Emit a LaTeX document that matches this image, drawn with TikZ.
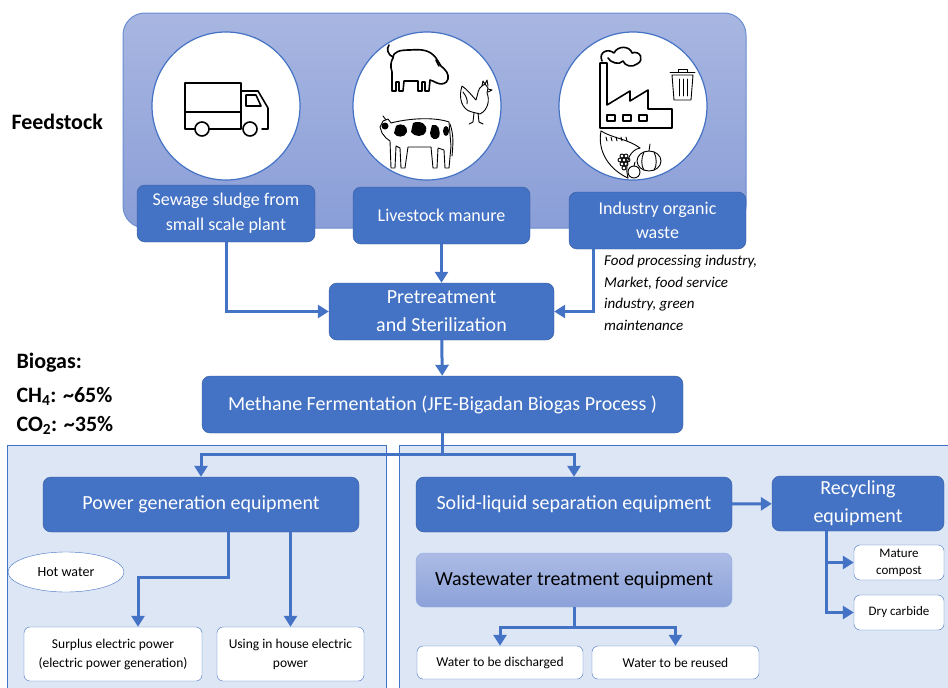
\documentclass[tikz,border=0pt]{standalone}
\usepackage{fontspec}
\setmainfont{Carlito}
\usepackage{tikz}
\usepackage{xcolor}
\usetikzlibrary{arrows.meta,shapes.geometric}
\definecolor{officeblue}{RGB}{68,114,196}
\definecolor{edgeblue}{RGB}{52,90,160}
\definecolor{panelblue}{RGB}{220,230,245}
\definecolor{feedtop}{RGB}{168,182,225}
\definecolor{feedbot}{RGB}{138,158,215}
\definecolor{washtop}{RGB}{172,188,229}
\definecolor{washbot}{RGB}{140,161,217}
\tikzset{%
  tipF/.tip={Triangle[length=11pt,width=13pt]},
  bluebox/.style={draw=edgeblue, fill=officeblue, rounded corners=8pt, text=white,
    align=center, inner sep=0pt, font=\fontsize{20}{28}\selectfont},
  whitebox/.style={draw=officeblue, fill=white, rounded corners=6pt, align=center,
    inner sep=0pt, font=\fontsize{13.5}{19}\selectfont},
  disc/.style={circle, draw=officeblue, line width=1.2pt, fill=white,
    minimum size=148pt, inner sep=0pt},
  flow/.style={draw=officeblue, line width=3pt, -tipF},
  sketch/.style={draw=black, line width=1.6pt, line join=round, line cap=round},
  finesketch/.style={draw=black, line width=0.9pt, line join=round, line cap=round}
}

\begin{document}
\begin{tikzpicture}[x=1pt,y=-1pt]
\useasboundingbox (0,0) rectangle (948,688);

% panels for energy use and digestate use
\draw[draw=officeblue, fill=panelblue, line width=1pt] (7,445) rectangle (386,700);
\draw[draw=officeblue, fill=panelblue, line width=1pt] (399,445) rectangle (960,700);

% feedstock frame
\draw[draw=officeblue!80, top color=feedtop, bottom color=feedbot, rounded corners=22pt,
  line width=1pt] (123,13) rectangle (746,228);

\node[disc] (truckdisc) at (226,106) {};
\node[disc] (farmdisc) at (427,106) {};
\node[disc] (plantdisc) at (633,106) {};

% truck
\draw[sketch] (185,83) rectangle (241,129);
\draw[sketch] (185,112) -- (241,112);
\draw[sketch] (241,91) -- (258,91) -- (268,108) -- (268,129) -- (262,129);
\draw[sketch] (246,95) -- (256,95) -- (261,106) -- (246,106) -- cycle;
\draw[sketch, fill=white] (202,129) circle[radius=7pt];
\draw[sketch, fill=white] (250,129) circle[radius=7pt];

% pig
\draw[sketch, fill=white] (393,58) .. controls (393,51) and (401,50) .. (410,50)
  .. controls (422,49) and (430,50) .. (436,58) -- (441,66) .. controls (446,70) and (449,74) .. (448,79)
  .. controls (447,84) and (441,85) .. (437,83) .. controls (434,82) and (432,80) .. (430,80)
  -- (429,91) -- (425,91) -- (425,82) -- (422,82) -- (422,91) -- (418,91) -- (418,81)
  -- (404,81) -- (403,91) -- (399,91) -- (399,82) -- (396,82) -- (396,91) -- (392,91) -- (392,72)
  .. controls (390,66) and (391,61) .. (393,58) -- cycle;
\draw[sketch] (393,57) .. controls (388,55) and (386,49) .. (389,45);
\draw[sketch] (436,60) -- (439,66);

% rooster
\draw[finesketch, fill=white] (472,112) .. controls (462,110) and (458,98) .. (462,86)
  .. controls (468,90) and (472,96) .. (476,100) .. controls (478,94) and (478,88) .. (482,86)
  -- (485,84) -- (488,88) -- (487,93) .. controls (490,100) and (488,110) .. (480,114) -- cycle;
\draw[finesketch] (482,86) -- (483,81) -- (485,84) -- (487,80) -- (488,86);
\draw[finesketch] (488,89) -- (492,90) -- (488,92);
\draw[finesketch] (463,92) .. controls (466,96) and (468,100) .. (467,104);
\draw[finesketch] (474,113) -- (473,122) -- (469,124);
\draw[finesketch] (478,113) -- (479,122) -- (483,124);

% cow
\draw[finesketch, fill=white] (391,123) .. controls (410,118) and (435,117) .. (449,122)
  -- (451,146) -- (449,168) -- (445,168) -- (444,150) -- (438,148) -- (437,168) -- (433,168)
  -- (431,147) -- (408,147) -- (405,168) -- (401,168) -- (400,148) -- (396,146) -- (395,168)
  -- (391,168) -- (390,141) -- (386,138) -- (382,133) -- (380,127) -- (383,121) -- (388,119) -- cycle;
\draw[finesketch] (450,124) .. controls (454,135) and (453,145) .. (452,156);
\draw[finesketch] (386,120) -- (383,116);
\fill (385,126) circle[radius=3.5pt];
\fill (396,126) .. controls (402,122) and (408,126) .. (407,132) .. controls (405,138) and (396,138) .. (394,133) -- cycle;
\fill (413,123) .. controls (420,120) and (428,124) .. (426,131) .. controls (424,138) and (414,137) .. (411,132) -- cycle;
\fill (432,125) .. controls (438,123) and (441,130) .. (439,137) .. controls (436,141) and (430,139) .. (430,133) -- cycle;
\fill (446,131) ellipse[x radius=3pt, y radius=5pt];

% factory
\draw[sketch] (600,128) -- (600,63) -- (607,63) -- (607,105) -- (630,91) -- (630,101)
  -- (648,90) -- (648,109) -- (672,109) -- (672,128) -- cycle;
\draw[sketch] (607,115) rectangle (615,121);
\draw[sketch] (623,115) rectangle (631,121);
\draw[sketch] (639,115) rectangle (647,121);
\draw[sketch] (602,61) .. controls (598,52) and (608,48) .. (614,53)
  .. controls (618,45) and (630,46) .. (632,53) .. controls (640,50) and (645,60) .. (637,64)
  .. controls (632,68) and (625,66) .. (623,61) .. controls (619,66) and (610,62) .. (608,58);

% bin
\draw[finesketch] (670,72) -- (695,72);
\draw[finesketch] (678,72) -- (678,69) -- (687,69) -- (687,72);
\draw[finesketch] (672,75) -- (674,100) -- (691,100) -- (693,75) -- cycle;
\draw[finesketch] (679,79) -- (679,96);
\draw[finesketch] (683,79) -- (683,96);
\draw[finesketch] (687,79) -- (687,96);

% cornucopia with produce
\draw[finesketch] (601,131) .. controls (597,152) and (610,170) .. (628,178);
\draw[finesketch] (601,131) .. controls (612,138) and (628,139) .. (640,148);
\draw[finesketch] (640,148) .. controls (630,150) and (624,162) .. (628,178);
\foreach \t in {606,611,616,621,626}
  \draw[finesketch] (\t,137) -- (\t+1,141);
\draw[finesketch, fill=white] (649,161) ellipse[x radius=12pt, y radius=10pt];
\draw[finesketch] (644,152) .. controls (641,158) and (641,166) .. (644,170);
\draw[finesketch] (654,152) .. controls (657,158) and (657,166) .. (654,170);
\draw[finesketch] (649,151) -- (650,144);
\foreach \gx/\gy in {622/156,626/156,620/160,624/160,628/160,622/164,626/164,624/168}
  \draw[finesketch] (\gx,\gy) circle[radius=2pt];
\draw[finesketch, fill=white] (634,172) circle[radius=6pt];
\draw[finesketch] (634,166) -- (635,162);

% feedstock boxes
\node[bluebox, minimum width=178pt, minimum height=57pt, font=\fontsize{18}{25}\selectfont]
  (sewage) at (226,213.5) {Sewage sludge from\\small scale plant};
\node[bluebox, minimum width=177pt, minimum height=57pt, font=\fontsize{18}{25}\selectfont]
  (livestock) at (441.5,215.5) {Livestock manure};
\node[bluebox, minimum width=177pt, minimum height=57pt, font=\fontsize{18}{24}\selectfont]
  (industry) at (657.5,220.5) {Industry organic\\waste};

\node[anchor=west, font=\bfseries\fontsize{22}{26}\selectfont] (feedlabel) at (8,122) {Feedstock};
\node[anchor=north west, align=left, inner sep=0pt, font=\itshape\fontsize{15}{21.5}\selectfont]
  (sources) at (604,255) {Food processing industry,\\Market, food service\\industry, green\\maintenance};

% process line
\node[bluebox, minimum width=225pt, minimum height=57pt] (pretreat) at (441.5,311.5)
  {Pretreatment\\and Sterilization};
\node[bluebox, minimum width=481pt, minimum height=57pt] (methane) at (442.5,404.5)
  {Methane Fermentation (JFE-Bigadan Biogas Process )};

\node[anchor=west, font=\bfseries\fontsize{22}{26}\selectfont] (biogas) at (13,363) {Biogas:};
\node[anchor=west, font=\bfseries\fontsize{22}{26}\selectfont] (chfour) at (13,396)
  {CH\textsubscript{4}: \textasciitilde65\%};
\node[anchor=west, font=\bfseries\fontsize{22}{26}\selectfont] (cotwo) at (13,425)
  {CO\textsubscript{2}: \textasciitilde35\%};

% energy side
\node[bluebox, minimum width=316pt, minimum height=55pt] (power) at (201,504.5)
  {Power generation equipment};
\node[ellipse, draw=officeblue, fill=white, minimum width=116pt, minimum height=40pt,
  inner sep=0pt, font=\fontsize{14}{19}\selectfont] (hotwater) at (66,572) {Hot water};
\node[whitebox, minimum width=178pt, minimum height=54pt] (surplus) at (113,654)
  {Surplus electric power\\(electric power generation)};
\node[whitebox, minimum width=147pt, minimum height=54pt] (inhouse) at (290.5,654)
  {Using in house electric\\power};

% digestate side
\node[bluebox, minimum width=316pt, minimum height=55pt] (solid) at (574,504.5)
  {Solid-liquid separation equipment};
\node[bluebox, minimum width=172pt, minimum height=55pt] (recycle) at (858,503.5)
  {Recycling\\equipment};
\node[draw=officeblue!60, top color=washtop, bottom color=washbot, rounded corners=8pt,
  minimum width=316pt, minimum height=54pt, inner sep=0pt, font=\fontsize{20}{24}\selectfont]
  (waste) at (574,580) {Wastewater treatment equipment};
\node[whitebox, minimum width=166pt, minimum height=33pt, font=\fontsize{13.5}{18}\selectfont]
  (discharge) at (500,662.5) {Water to be discharged};
\node[whitebox, minimum width=167pt, minimum height=33pt, font=\fontsize{13.5}{18}\selectfont]
  (reuse) at (675.5,662.5) {Water to be reused};
\node[whitebox, minimum width=90pt, minimum height=35pt, font=\fontsize{13}{17}\selectfont]
  (compost) at (899,562.5) {Mature\\compost};
\node[whitebox, minimum width=90pt, minimum height=35pt, font=\fontsize{13}{17}\selectfont]
  (carbide) at (899,612.5) {Dry carbide};

% connectors
\draw[flow] (sewage) |- (pretreat);
\draw[flow] (livestock) -- (pretreat);
\draw[flow] ([xshift=-64.5pt]industry.south) |- (pretreat);
\draw[flow] (pretreat) -- (methane);
\coordinate (fork) at ([yshift=-21pt]methane.south);
\draw[flow] (methane.south) -- (fork) -| (power.north);
\draw[flow] (fork) -| (solid.north);
\draw[flow] ([xshift=27pt]power.south) -- ++(0,45) -| ([xshift=25pt]surplus.north);
\draw[flow] (power.south -| inhouse.north) -- (inhouse.north);
\draw[flow] (solid) -- (recycle);
\draw[flow] ([xshift=-32pt]recycle.south) |- (compost.west);
\draw[flow] ([xshift=-32pt]recycle.south) |- (carbide.west);
\draw[flow] (waste.south) -- ++(0,20) -| (discharge.north);
\draw[flow] (waste.south) ++(0,20) -| (reuse.north);
\end{tikzpicture}
\end{document}
